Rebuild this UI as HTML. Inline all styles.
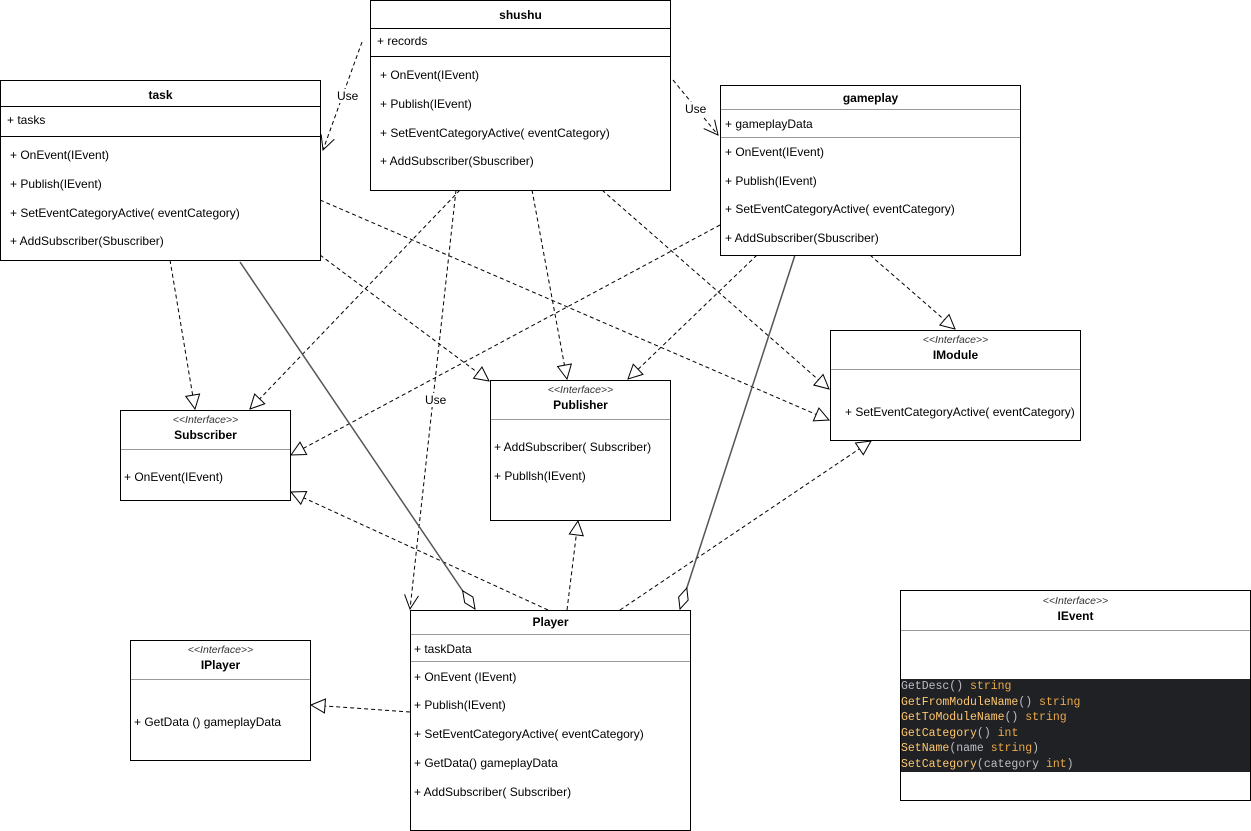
<!DOCTYPE html>
<html><head><meta charset="utf-8"><style>
body{margin:0;width:1251px;height:831px;background:#fff;position:relative;overflow:hidden;font-family:"Liberation Sans",Arial,sans-serif;font-size:12px;color:#000}
.b{position:absolute;border:1px solid #000;background:#fff;box-sizing:border-box}
.t{position:absolute;left:0;right:0;text-align:center;font-weight:bold;font-size:12px}
.s{position:absolute;left:0;right:0;text-align:center;font-style:italic;font-size:10.5px;color:#333}
.l{position:absolute;left:0;right:0;height:0;border-top:1px solid #000}
.g{border-top-color:#999}
.r{position:absolute;white-space:nowrap}
.code{position:absolute;left:0;right:0;background:#1f2125;font-family:"Liberation Mono",monospace;font-size:11.5px;line-height:15.5px;color:#bcbec4}
.o{color:#e8a94a}.y{color:#ffc66d}
svg{position:absolute;left:0;top:0}
</style></head><body>
<svg width="1251" height="831">
<defs>
<marker id="tri" viewBox="0 0 16 16" refX="15" refY="8" markerWidth="16" markerHeight="16" markerUnits="userSpaceOnUse" orient="auto"><path d="M1,1 L15,8 L1,15 Z" fill="#fff" stroke="#000" stroke-width="1"/></marker>
<marker id="op" viewBox="0 0 16 16" refX="15" refY="8" markerWidth="16" markerHeight="16" markerUnits="userSpaceOnUse" orient="auto"><path d="M1,1 L15,8 L1,15" fill="none" stroke="#000" stroke-width="1"/></marker>
<marker id="dia" viewBox="0 0 24 12" refX="23" refY="6" markerWidth="24" markerHeight="12" markerUnits="userSpaceOnUse" orient="auto"><path d="M1,6 L12,1 L23,6 L12,11 Z" fill="#fff" stroke="#000" stroke-width="1"/></marker>
</defs>
<g stroke="#000" stroke-dasharray="4,3" fill="none" stroke-width="1">
<line x1="170" y1="260" x2="195" y2="409" marker-end="url(#tri)"/>
<line x1="320" y1="200" x2="829" y2="420" marker-end="url(#tri)"/>
<line x1="320" y1="255" x2="489" y2="381" marker-end="url(#tri)"/>
<line x1="460" y1="190" x2="250" y2="409" marker-end="url(#tri)"/>
<line x1="532" y1="190" x2="567" y2="379" marker-end="url(#tri)"/>
<line x1="602" y1="190" x2="829" y2="389" marker-end="url(#tri)"/>
<line x1="456" y1="190" x2="410" y2="609" marker-end="url(#op)"/>
<line x1="362" y1="42" x2="323" y2="150" marker-end="url(#op)"/>
<line x1="673" y1="80" x2="718" y2="135" marker-end="url(#op)"/>
<line x1="720" y1="225" x2="291" y2="455" marker-end="url(#tri)"/>
<line x1="757" y1="255" x2="628" y2="379" marker-end="url(#tri)"/>
<line x1="870" y1="255" x2="955" y2="329" marker-end="url(#tri)"/>
<line x1="548" y1="610" x2="291" y2="492" marker-end="url(#tri)"/>
<line x1="567" y1="610" x2="578" y2="521" marker-end="url(#tri)"/>
<line x1="620" y1="610" x2="871" y2="441" marker-end="url(#tri)"/>
<line x1="410" y1="712" x2="311" y2="705" marker-end="url(#tri)"/>
</g>
<g stroke="#555" stroke-width="1.5" fill="none">
<line x1="240" y1="262" x2="475" y2="609" marker-end="url(#dia)"/>
<line x1="795" y1="255" x2="680" y2="609" marker-end="url(#dia)"/>
</g>
</svg>
<div class="r" style="left:337px;top:89px;background:#fff">Use</div>
<div class="r" style="left:685px;top:102px;background:#fff">Use</div>
<div class="r" style="left:425px;top:393px;background:#fff">Use</div>

<div class="b" style="left:370px;top:0;width:301px;height:191px">
<div class="t" style="top:7px">shushu</div><div class="l" style="top:27px"></div>
<div class="r" style="left:6px;top:33px">+ records</div><div class="l" style="top:55px"></div>
<div class="r" style="left:9px;top:67px">+ OnEvent(IEvent)</div>
<div class="r" style="left:9px;top:96px">+ Publish(IEvent)</div>
<div class="r" style="left:9px;top:125px">+ SetEventCategoryActive( eventCategory)</div>
<div class="r" style="left:9px;top:153px">+ AddSubscriber(Sbuscriber)</div>
</div>

<div class="b" style="left:0;top:80px;width:321px;height:181px">
<div class="t" style="top:7px">task</div><div class="l" style="top:25px"></div>
<div class="r" style="left:6px;top:32px">+ tasks</div><div class="l" style="top:55px"></div>
<div class="r" style="left:9px;top:67px">+ OnEvent(IEvent)</div>
<div class="r" style="left:9px;top:96px">+ Publish(IEvent)</div>
<div class="r" style="left:9px;top:125px">+ SetEventCategoryActive( eventCategory)</div>
<div class="r" style="left:9px;top:153px">+ AddSubscriber(Sbuscriber)</div>
</div>

<div class="b" style="left:720px;top:85px;width:301px;height:171px">
<div class="t" style="top:5px">gameplay</div><div class="l g" style="top:23px"></div>
<div class="r" style="left:4px;top:31px">+ gameplayData</div><div class="l g" style="top:51px"></div>
<div class="r" style="left:4px;top:59px">+ OnEvent(IEvent)</div>
<div class="r" style="left:4px;top:88px">+ Publish(IEvent)</div>
<div class="r" style="left:4px;top:116px">+ SetEventCategoryActive( eventCategory)</div>
<div class="r" style="left:4px;top:145px">+ AddSubscriber(Sbuscriber)</div>
</div>

<div class="b" style="left:830px;top:330px;width:251px;height:111px">
<div class="s" style="top:3px">&lt;&lt;Interface&gt;&gt;</div><div class="t" style="top:17px">IModule</div>
<div class="l g" style="top:38px"></div>
<div class="r" style="left:14px;top:74px">+ SetEventCategoryActive( eventCategory)</div>
</div>

<div class="b" style="left:490px;top:380px;width:181px;height:141px">
<div class="s" style="top:3px">&lt;&lt;Interface&gt;&gt;</div><div class="t" style="top:17px">Publisher</div>
<div class="l g" style="top:38px"></div>
<div class="r" style="left:3px;top:59px">+ AddSubscriber( Subscriber)</div>
<div class="r" style="left:3px;top:88px">+ Publlsh(IEvent)</div>
</div>

<div class="b" style="left:120px;top:410px;width:171px;height:91px">
<div class="s" style="top:3px">&lt;&lt;Interface&gt;&gt;</div><div class="t" style="top:17px">Subscriber</div>
<div class="l g" style="top:38px"></div>
<div class="r" style="left:3px;top:59px">+ OnEvent(IEvent)</div>
</div>

<div class="b" style="left:410px;top:610px;width:281px;height:221px">
<div class="t" style="top:4px">Player</div><div class="l g" style="top:23px"></div>
<div class="r" style="left:3px;top:31px">+ taskData</div><div class="l g" style="top:50px"></div>
<div class="r" style="left:3px;top:59px">+ OnEvent (IEvent)</div>
<div class="r" style="left:3px;top:87px">+ Publish(IEvent)</div>
<div class="r" style="left:3px;top:116px">+ SetEventCategoryActive( eventCategory)</div>
<div class="r" style="left:3px;top:145px">+ GetData() gameplayData</div>
<div class="r" style="left:3px;top:174px">+ AddSubscriber( Subscriber)</div>
</div>

<div class="b" style="left:130px;top:640px;width:181px;height:121px">
<div class="s" style="top:3px">&lt;&lt;Interface&gt;&gt;</div><div class="t" style="top:17px">IPlayer</div>
<div class="l g" style="top:38px"></div>
<div class="r" style="left:3px;top:74px">+ GetData () gameplayData</div>
</div>

<div class="b" style="left:900px;top:590px;width:351px;height:211px">
<div class="s" style="top:4px">&lt;&lt;Interface&gt;&gt;</div><div class="t" style="top:18px">IEvent</div>
<div class="l g" style="top:39px"></div>
<div class="code" style="top:88px;height:93px;padding-top:0">
<div>GetDesc() <span class="o">string</span></div>
<div><span class="y">GetFromModuleName</span>() <span class="o">string</span></div>
<div><span class="y">GetToModuleName</span>() <span class="o">string</span></div>
<div><span class="y">GetCategory</span>() <span class="o">int</span></div>
<div><span class="y">SetName</span>(name <span class="o">string</span>)</div>
<div><span class="y">SetCategory</span>(category <span class="o">int</span>)</div>
</div>
</div>
</body></html>
